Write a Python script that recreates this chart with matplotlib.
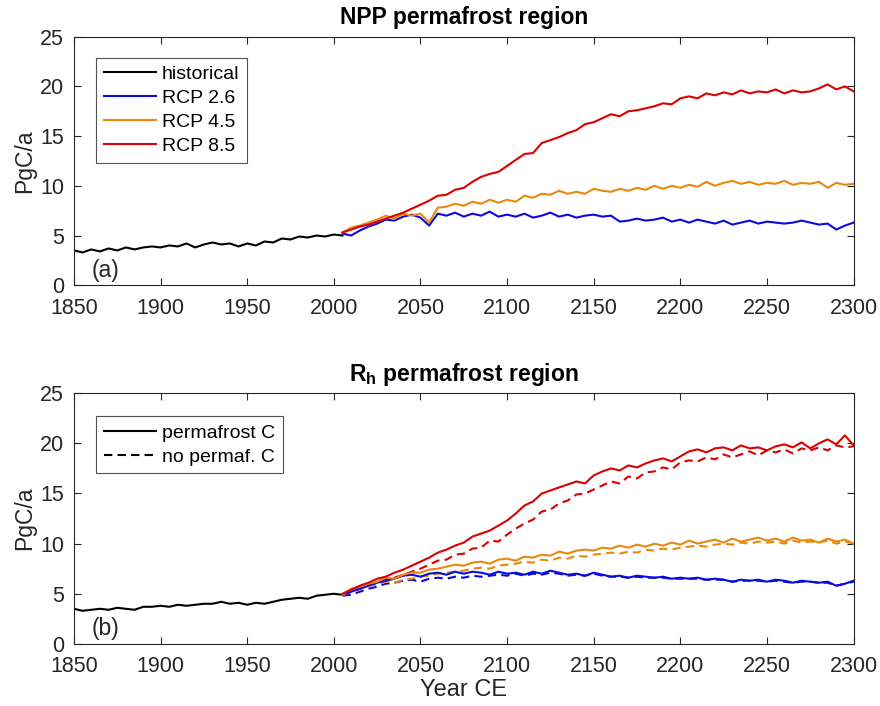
import numpy as np
import matplotlib
matplotlib.use('Agg')
import matplotlib.pyplot as plt
from matplotlib.lines import Line2D

plt.rcParams['font.family'] = ['Liberation Sans', 'DejaVu Sans']
plt.rcParams['mathtext.fontset'] = 'custom'
plt.rcParams['mathtext.rm'] = 'Liberation Sans'
plt.rcParams['mathtext.bf'] = 'Liberation Sans:bold'

# years
hist_years = np.arange(1850, 2006, 5)
fut_years = np.arange(2005, 2301, 5)

# panel (a) NPP
npp_hist = [3.5, 3.3, 3.6, 3.4, 3.7, 3.5, 3.8, 3.6, 3.8, 3.9, 3.8, 4.0, 3.9, 4.2, 3.8, 4.1,
            4.3, 4.1, 4.2, 3.9, 4.2, 4.0, 4.4, 4.3, 4.7, 4.6, 4.9, 4.8, 5.0, 4.9, 5.1, 5.0]
npp_26 = [5.2, 5.0, 5.5, 5.9, 6.2, 6.6, 6.5, 6.9, 7.1, 6.8, 6.0, 7.2, 7.0, 7.3, 6.9, 7.2,
          7.0, 7.4, 6.9, 7.1, 6.9, 7.2, 6.8, 7.0, 7.3, 6.9, 7.1, 6.8, 7.0, 7.1, 6.9, 7.0,
          6.4, 6.5, 6.7, 6.5, 6.6, 6.8, 6.4, 6.6, 6.3, 6.6, 6.4, 6.2, 6.5, 6.1, 6.3, 6.5,
          6.2, 6.4, 6.3, 6.2, 6.3, 6.5, 6.3, 6.1, 6.2, 5.6, 6.0, 6.3]
npp_45 = [5.3, 5.8, 6.0, 6.3, 6.6, 7.0, 6.7, 7.2, 7.0, 7.2, 6.3, 7.8, 7.9, 8.2, 8.0, 8.4,
          8.2, 8.6, 8.3, 8.6, 8.4, 9.0, 8.8, 9.2, 9.1, 9.5, 9.2, 9.4, 9.2, 9.7, 9.5, 9.4,
          9.7, 9.5, 9.8, 9.6, 10.0, 9.7, 10.0, 9.8, 10.1, 9.9, 10.4, 10.0, 10.3, 10.5, 10.2, 10.4,
          10.1, 10.3, 10.2, 10.5, 10.1, 10.3, 10.2, 10.4, 9.8, 10.3, 10.1, 10.2]
npp_85 = [5.3, 5.6, 5.9, 6.1, 6.4, 6.7, 7.0, 7.3, 7.7, 8.1, 8.5, 9.0, 9.1, 9.6, 9.8, 10.4,
          10.9, 11.2, 11.4, 12.0, 12.6, 13.2, 13.3, 14.3, 14.6, 14.9, 15.3, 15.6, 16.2, 16.4, 16.8, 17.2,
          17.0, 17.5, 17.6, 17.8, 18.0, 18.3, 18.2, 18.8, 19.0, 18.8, 19.3, 19.1, 19.4, 19.2, 19.6, 19.3,
          19.5, 19.4, 19.7, 19.3, 19.6, 19.4, 19.5, 19.8, 20.2, 19.7, 20.0, 19.5]

# panel (b) Rh, solid = permafrost C, dashed = no permafrost C
rh_hist = [3.5, 3.3, 3.4, 3.5, 3.4, 3.6, 3.5, 3.4, 3.7, 3.7, 3.8, 3.7, 3.9, 3.8, 3.9, 4.0,
           4.0, 4.2, 4.0, 4.1, 3.9, 4.1, 4.0, 4.2, 4.4, 4.5, 4.6, 4.5, 4.8, 4.9, 5.0, 4.9]
rh_26 = [4.9, 5.2, 5.5, 5.8, 6.1, 6.3, 6.5, 6.8, 6.9, 6.7, 7.0, 7.1, 6.9, 7.2, 7.0, 7.2,
         7.1, 6.9, 7.2, 7.0, 7.1, 6.9, 7.2, 7.0, 7.3, 7.1, 6.9, 7.0, 6.8, 7.1, 6.9, 6.7,
         6.8, 6.6, 6.8, 6.7, 6.6, 6.7, 6.5, 6.6, 6.5, 6.6, 6.4, 6.5, 6.4, 6.2, 6.4, 6.3,
         6.4, 6.2, 6.4, 6.3, 6.1, 6.3, 6.2, 6.1, 6.2, 5.8, 6.0, 6.3]
rh_26_nopf = [4.8, 4.9, 5.2, 5.5, 5.7, 6.0, 6.1, 6.3, 6.4, 6.2, 6.5, 6.6, 6.5, 6.7, 6.6, 6.8,
              6.7, 6.8, 6.9, 6.8, 7.0, 6.8, 7.0, 6.9, 7.1, 7.0, 6.8, 6.9, 6.8, 7.0, 6.8, 6.7,
              6.7, 6.6, 6.7, 6.6, 6.6, 6.6, 6.5, 6.5, 6.5, 6.5, 6.4, 6.4, 6.4, 6.2, 6.3, 6.3,
              6.3, 6.2, 6.3, 6.2, 6.1, 6.2, 6.2, 6.1, 6.1, 5.8, 6.0, 6.2]
rh_45 = [4.9, 5.5, 5.7, 6.0, 6.2, 6.6, 6.5, 6.9, 7.1, 7.1, 7.4, 7.5, 7.7, 7.9, 7.8, 8.1,
         8.2, 8.0, 8.4, 8.5, 8.3, 8.7, 8.6, 8.9, 8.8, 9.2, 9.0, 9.3, 9.4, 9.3, 9.6, 9.5,
         9.8, 9.6, 9.9, 9.7, 10.0, 9.8, 10.1, 9.9, 10.3, 10.0, 10.2, 10.4, 10.1, 10.5, 10.2, 10.4,
         10.6, 10.3, 10.5, 10.2, 10.6, 10.3, 10.4, 10.1, 10.5, 10.2, 10.4, 10.0]
rh_45_nopf = [4.8, 5.3, 5.5, 5.8, 5.9, 6.2, 6.1, 6.4, 6.5, 6.7, 6.8, 7.0, 7.1, 7.2, 7.3, 7.5,
              7.6, 7.5, 7.8, 7.9, 8.0, 8.2, 8.1, 8.4, 8.3, 8.6, 8.5, 8.8, 8.7, 8.9, 9.0, 9.1,
              9.0, 9.2, 9.1, 9.4, 9.3, 9.5, 9.4, 9.6, 9.7, 9.8, 9.7, 9.9, 10.0, 9.9, 10.1, 10.0,
              10.2, 10.1, 10.2, 10.0, 10.3, 10.1, 10.2, 10.1, 10.3, 10.0, 10.2, 10.0]
rh_85 = [5.0, 5.4, 5.8, 6.1, 6.5, 6.7, 7.1, 7.4, 7.8, 8.2, 8.6, 9.1, 9.4, 9.8, 10.1, 10.7,
         11.0, 11.3, 11.8, 12.3, 13.0, 13.8, 14.2, 15.0, 15.3, 15.6, 15.9, 16.2, 16.0, 16.8, 17.2, 17.5,
         17.3, 17.8, 17.6, 18.0, 18.3, 18.5, 18.2, 18.7, 19.2, 19.4, 19.1, 19.5, 19.6, 19.3, 19.8, 19.5,
         19.6, 19.3, 19.7, 19.9, 19.6, 20.1, 19.5, 20.0, 20.4, 19.9, 20.8, 19.8]
rh_85_nopf = [4.9, 5.2, 5.5, 5.9, 6.1, 6.4, 6.6, 6.9, 7.2, 7.5, 7.9, 8.3, 8.4, 8.9, 9.0, 9.5,
              9.6, 10.3, 10.2, 10.9, 11.5, 12.0, 12.4, 13.2, 13.4, 14.0, 14.3, 14.9, 15.0, 15.4, 15.8, 16.2,
              16.0, 16.7, 16.5, 17.1, 17.2, 17.6, 17.4, 18.1, 18.3, 18.2, 18.6, 18.4, 18.9, 18.6, 18.9, 19.2,
              18.8, 19.3, 19.1, 19.4, 19.0, 19.5, 19.3, 19.6, 19.3, 19.8, 19.6, 19.7]

c_blue = '#0a0ae0'
c_orange = '#e8890f'
c_red = '#dc0000'
lw = 1.5
dash = (0, (4, 2.5))

fig = plt.figure(figsize=(8.8, 7.06), dpi=100)
ax1 = fig.add_axes([0.084, 0.596, 0.886, 0.352])
ax2 = fig.add_axes([0.084, 0.088, 0.886, 0.355])

def style_axes(ax):
    ax.set_xlim(1850, 2300)
    ax.set_ylim(0, 25)
    ax.set_xticks(np.arange(1850, 2301, 50))
    ax.set_yticks(np.arange(0, 26, 5))
    ax.tick_params(direction='in', top=True, right=True, labelsize=15.5,
                   colors='#262626', length=5, width=0.8)
    ax.tick_params(axis='x', pad=9)
    ax.tick_params(axis='y', pad=7)
    for s in ax.spines.values():
        s.set_color('#262626')
        s.set_linewidth(0.8)
    ax.set_ylabel('PgC/a', fontsize=16.5, color='#262626', labelpad=3)

def add_legend(ax, handles, labels, y_top):
    leg = ax.legend(handles, labels, loc='upper left', bbox_to_anchor=(0.028, y_top),
                    borderaxespad=0, fontsize=14, handlelength=2.7, fancybox=False,
                    edgecolor='#262626', borderpad=0.4, labelspacing=0.32,
                    handletextpad=0.3)
    leg.get_frame().set_linewidth(0.8)

# panel a
h1 = ax1.plot(hist_years, npp_hist, color='k', lw=lw)
h2 = ax1.plot(fut_years, npp_26, color=c_blue, lw=lw)
h3 = ax1.plot(fut_years, npp_45, color=c_orange, lw=lw)
h4 = ax1.plot(fut_years, npp_85, color=c_red, lw=lw)
style_axes(ax1)
ax1.set_title('NPP permafrost region', fontsize=16.5, fontweight='bold', pad=9)
add_legend(ax1, h1 + h2 + h3 + h4, ['historical', 'RCP 2.6', 'RCP 4.5', 'RCP 8.5'], 0.915)
ax1.text(1860.5, 0.85, '(a)', fontsize=16.5, color='#262626', va='baseline')

# panel b
ax2.plot(hist_years, rh_hist, color='k', lw=lw)
ax2.plot(fut_years, rh_26_nopf, color=c_blue, lw=lw, ls=dash)
ax2.plot(fut_years, rh_45_nopf, color=c_orange, lw=lw, ls=dash)
ax2.plot(fut_years, rh_85_nopf, color=c_red, lw=lw, ls=dash)
ax2.plot(fut_years, rh_26, color=c_blue, lw=lw)
ax2.plot(fut_years, rh_45, color=c_orange, lw=lw)
ax2.plot(fut_years, rh_85, color=c_red, lw=lw)
style_axes(ax2)
ax2.set_title(r'$\mathbf{R_h}$ permafrost region', fontsize=16.5, fontweight='bold', pad=9)
ax2.set_xlabel('Year CE', fontsize=17, color='#262626', labelpad=1)
handles = [Line2D([], [], color='k', lw=lw),
           Line2D([], [], color='k', lw=lw, ls=dash)]
add_legend(ax2, handles, ['permafrost C', 'no permaf. C'], 0.908)
ax2.text(1860.5, 0.85, '(b)', fontsize=16.5, color='#262626', va='baseline')

fig.savefig('out.png', dpi=100)
